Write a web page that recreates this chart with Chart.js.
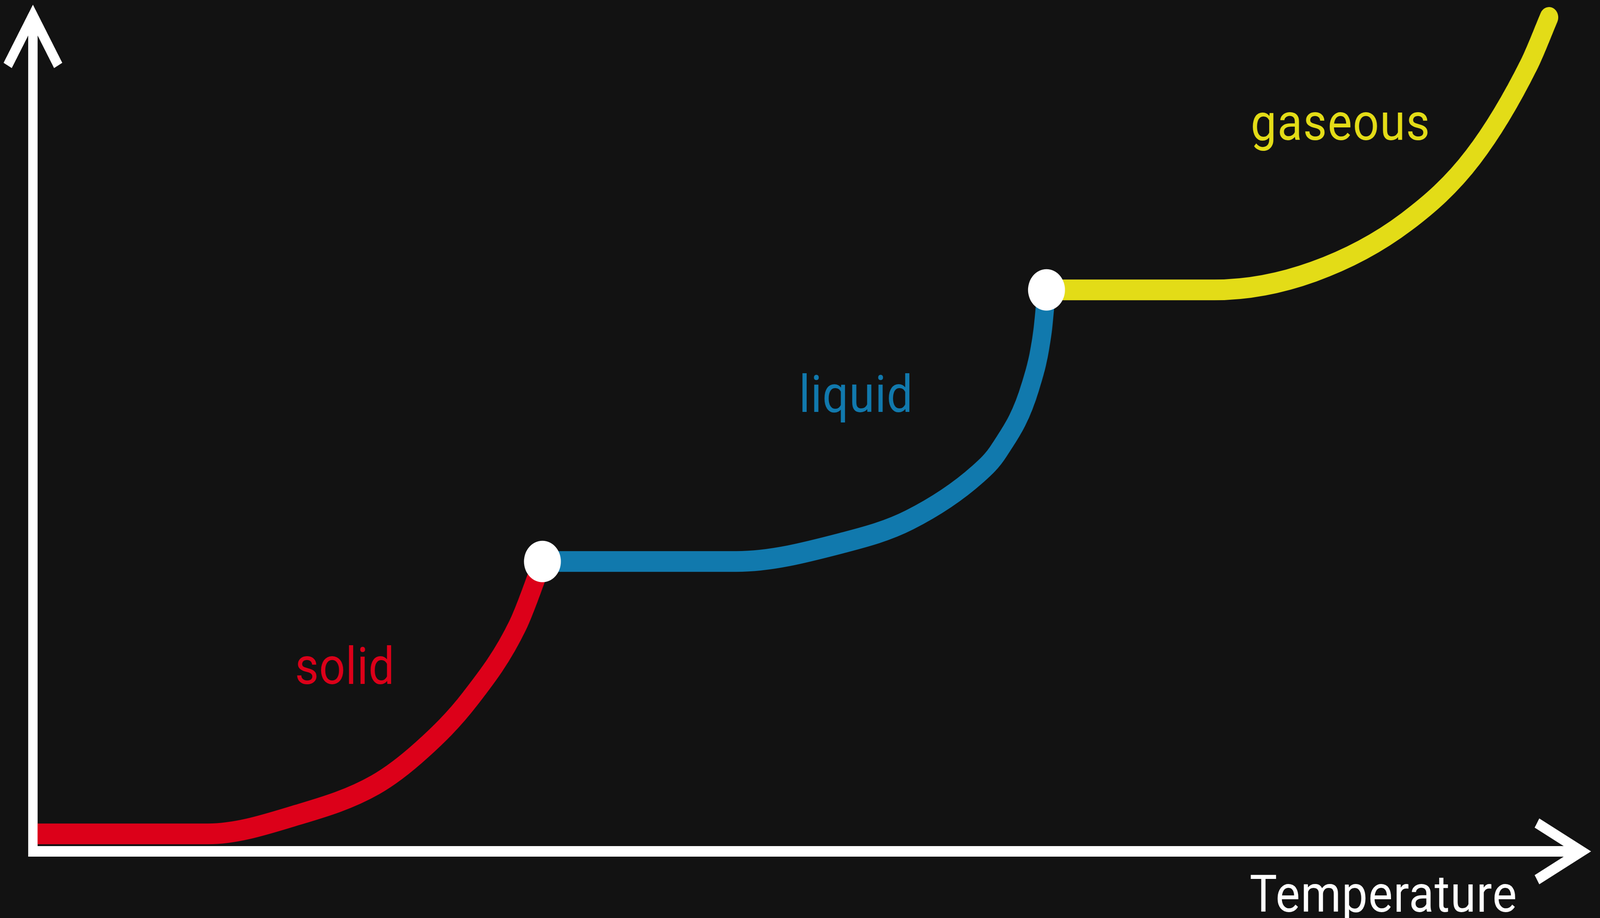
<!DOCTYPE html>
<html>
<head>
<meta charset="utf-8">
<script src="https://cdn.jsdelivr.net/npm/chart.js@4.4.1/dist/chart.umd.min.js"></script>
<style>
  html, body { margin: 0; padding: 0; background: #121212; overflow: hidden; }
  #wrap { position: absolute; left: 0; top: 0; width: 4594px; height: 2349px; transform-origin: 0 0; }
</style>
</head>
<body>
<div id="wrap"><canvas id="chart"></canvas></div>
<script>
// Heating curve: x = temperature, y = energy (arbitrary units, 0-100)
const solidX = [0.3, 11.3, 17.1, 22.1, 25.1, 28.2, 31.3, 32.9];
const solidY = [2.1, 2.1, 4.4, 8.0, 12.2, 18.3, 27.2, 34.9];

const liquidX = [32.9, 45.4, 52.4, 56.6, 61.0, 62.4, 64.4, 65.2, 65.45];
const liquidY = [34.9, 34.9, 37.2, 39.9, 45.4, 48.3, 55.9, 62.7, 67.6];

const gasX = [65.45, 76.3, 82.7, 88.7, 93.0, 96.6, 97.9];
const gasY = [67.6, 67.6, 69.8, 75.8, 83.6, 94.7, 100.4];

const phaseNames = ["solid", "liquid", "gaseous"];
const axisTitle = "Temperature";

const colors = { solid: "#dc0019", liquid: "#1179ad", gaseous: "#e3dc17" };

const toPoints = (xs, ys) => xs.map((x, i) => ({ x: x, y: ys[i] }));

// transition dots sit at the end of the solid and liquid curves
const transitions = [
  { x: solidX[solidX.length - 1], y: solidY[solidY.length - 1] },
  { x: liquidX[liquidX.length - 1], y: liquidY[liquidY.length - 1] },
];

// the drawing is laid out at 4594x2349 and stretched to fill the window
const wrap = document.getElementById("wrap");
wrap.style.transform = "scale(" + window.innerWidth / 4594 + "," + window.innerHeight / 2349 + ")";

const AXIS_W = 27;
const LINE_W = 53;

const curve = (name, xs, ys, cap) => ({
  type: "line",
  label: name,
  data: toPoints(xs, ys),
  borderColor: colors[name],
  borderWidth: LINE_W,
  borderCapStyle: cap,
  borderJoinStyle: "round",
  pointRadius: 0,
  cubicInterpolationMode: "monotone",
  capBezierPoints: false,
  clip: false,
  order: 1,
});

// Arrow heads on the ends of both axes
const arrowHeads = {
  id: "arrowHeads",
  afterDraw(chart) {
    const { ctx, chartArea } = chart;
    ctx.save();
    ctx.strokeStyle = "#ffffff";
    ctx.lineWidth = AXIS_W;
    ctx.lineJoin = "miter";
    ctx.lineCap = "butt";
    const vx = chartArea.left, vy = chartArea.top - AXIS_W / 2;
    ctx.beginPath();
    ctx.moveTo(vx - 72.5, vy + 128);
    ctx.lineTo(vx, vy);
    ctx.lineTo(vx + 72.5, vy + 128);
    ctx.stroke();
    const hx = chartArea.right, hy = chartArea.bottom;
    ctx.beginPath();
    ctx.moveTo(hx - 128, hy - 72.5);
    ctx.lineTo(hx, hy);
    ctx.lineTo(hx - 128, hy + 72.5);
    ctx.stroke();
    ctx.restore();
  },
};

// Phase names and the axis title
const labelLayout = [
  { text: phaseNames[0], color: colors.solid, left: 853, baseline: 1750, width: 271 },
  { text: phaseNames[1], color: colors.liquid, left: 2304, baseline: 1054, width: 308 },
  { text: phaseNames[2], color: colors.gaseous, left: 3597, baseline: 358, width: 502 },
  { text: axisTitle, color: "#ffffff", left: 3591, baseline: 2333, width: 760 },
];

const textLabels = {
  id: "textLabels",
  afterDraw(chart) {
    const ctx = chart.ctx;
    ctx.save();
    ctx.font = "400 132px Roboto";
    ctx.textAlign = "left";
    ctx.textBaseline = "alphabetic";
    labelLayout.forEach((l) => {
      if ("letterSpacing" in ctx) ctx.letterSpacing = "0px";
      let m = ctx.measureText(l.text);
      const ink = m.actualBoundingBoxLeft + m.actualBoundingBoxRight;
      if ("letterSpacing" in ctx && l.text.length > 1) {
        ctx.letterSpacing = ((l.width - ink) / (l.text.length - 1)).toFixed(2) + "px";
        m = ctx.measureText(l.text);
      }
      ctx.fillStyle = l.color;
      ctx.fillText(l.text, l.left + m.actualBoundingBoxLeft, l.baseline);
    });
    ctx.restore();
  },
};

const axisOpts = (gridLineWidth) => ({
  type: "linear",
  min: 0,
  max: 100,
  grid: { display: false, drawTicks: false, lineWidth: gridLineWidth },
  ticks: { display: false },
  border: { display: true, color: "#ffffff", width: AXIS_W },
  title: { display: false },
});

new Chart(document.getElementById("chart"), {
  data: {
    datasets: [
      {
        type: "scatter",
        label: "transitions",
        data: transitions,
        pointRadius: 53,
        pointBackgroundColor: "#ffffff",
        pointBorderWidth: 0,
        clip: false,
        order: 0,
      },
      curve("solid", solidX, solidY, "butt"),
      curve("liquid", liquidX, liquidY, "round"),
      curve("gaseous", gasX, gasY, "round"),
    ],
  },
  options: {
    responsive: true,
    maintainAspectRatio: false,
    animation: false,
    events: [],
    layout: { padding: { left: 94.5, right: 31, top: 53, bottom: 170.5 } },
    plugins: { legend: { display: false }, tooltip: { enabled: false } },
    scales: {
      x: axisOpts(0),
      y: axisOpts(AXIS_W),
    },
  },
  plugins: [arrowHeads, textLabels],
});
</script>
</body>
</html>
